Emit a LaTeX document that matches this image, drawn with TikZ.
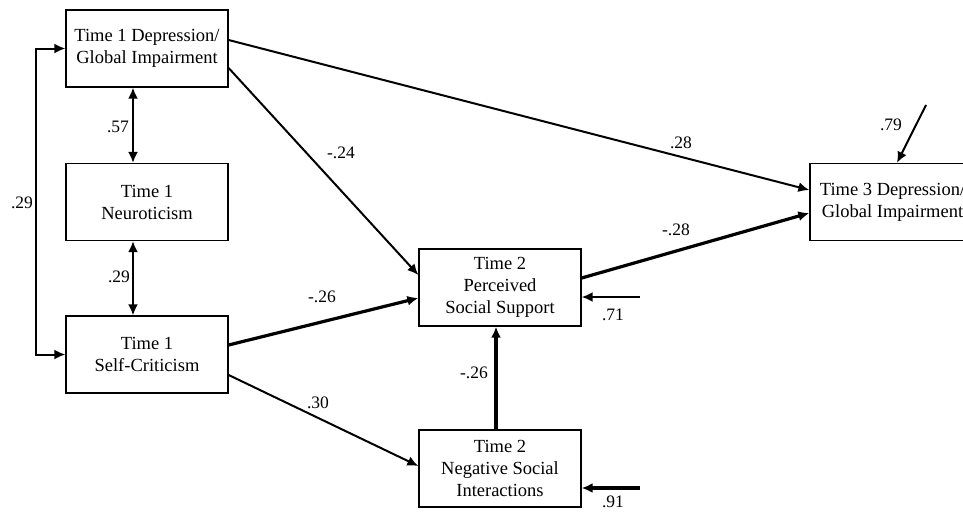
\documentclass[tikz,border=0pt]{standalone}
\usepackage{fontspec}
\setmainfont{Liberation Serif}
\usetikzlibrary{arrows.meta}
\begin{document}
\begin{tikzpicture}[x=1pt,y=-1pt,
  box/.style={draw,line width=1.3pt,rectangle,minimum width=162pt,minimum height=77pt,
    align=center,inner sep=0pt,font=\fontsize{18.5}{22}\selectfont},
  lbl/.style={font=\fontsize{17.5}{20}\selectfont,inner sep=0pt},
  conn/.style={line width=2pt,-{Latex[length=11pt,width=10pt]}},
  thick conn/.style={line width=3.2pt,-{Latex[length=11pt,width=10pt]}},
  dbl/.style={line width=2pt,{Latex[length=11pt,width=10pt]}-{Latex[length=11pt,width=10pt]}}]
\useasboundingbox (0,0) rectangle (963,512);
\node[box] (A) at (147,48.5) {Time 1 Depression/\\Global Impairment};
\node[box] (B) at (147,202) {Time 1\\Neuroticism};
\node[box] (C) at (147,354.5) {Time 1\\Self-Criticism};
\node[box] (D) at (500,287.5) {Time 2\\Perceived\\Social Support};
\node[box] (E) at (500,468.5) {Time 2\\Negative Social\\Interactions};
\node[box,minimum width=165pt] (F) at (892.5,202) {Time 3 Depression/\\Global Impairment};
\coordinate (r71) at (640,297);
\coordinate (r91) at (640,488);
\coordinate (r79) at (926,105);
% connectors
\draw[dbl] (A.west) -- ++(-29,0) |- (C.west);
\draw[dbl] ([xshift=-14pt]A.south) -- ([xshift=-14pt]B.north);
\draw[dbl] ([xshift=-14pt]B.south) -- ([xshift=-14pt]C.north);
\draw[conn] ([yshift=8.5pt]A.east) -- ([yshift=12pt]F.west);
\draw[conn] ([yshift=-19.5pt]A.east) -- ([yshift=12.5pt]D.west);
\draw[thick conn] ([yshift=9.5pt]C.east) -- ([yshift=-10.5pt]D.west);
\draw[conn] ([yshift=-20.5pt]C.east) -- ([yshift=2.5pt]E.west);
\draw[thick conn] ([yshift=9.5pt]D.east) -- ([yshift=-11pt]F.west);
\draw[thick conn] ([xshift=-4pt]E.north) -- ([xshift=-4pt]D.south);
\draw[conn] (r71) -- ([yshift=-9.5pt]D.east);
\draw[thick conn] (r91) -- ([yshift=-19.5pt]E.east);
\draw[conn] (r79) -- ([xshift=4.5pt]F.north);
% labels
\node[lbl] (l29a) at (22,203) {.29};
\node[lbl] (l57) at (118,127) {.57};
\node[lbl] (l29b) at (119,277) {.29};
\node[lbl] (l24) at (341,153) {-.24};
\node[lbl] (l28a) at (681,143) {.28};
\node[lbl] (l28b) at (676,230) {-.28};
\node[lbl] (l79) at (891,125) {.79};
\node[lbl] (l26a) at (322,297) {-.26};
\node[lbl] (l30) at (318,403) {.30};
\node[lbl] (l26b) at (474,373) {-.26};
\node[lbl] (l71) at (613,315) {.71};
\node[lbl] (l91) at (613,502) {.91};
\end{tikzpicture}
\end{document}
